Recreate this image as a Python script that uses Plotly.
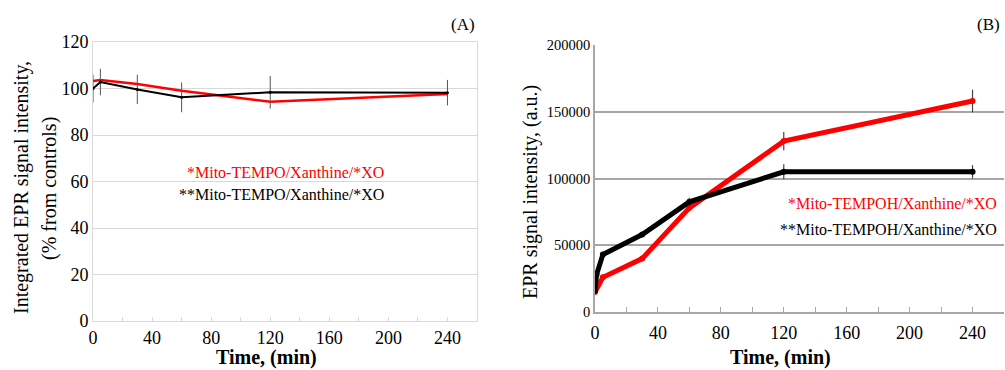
import plotly.graph_objects as go

# ---------------- Panel A data ----------------
a_time = [0, 5, 30, 60, 120, 240]
a_red = [103.2, 103.7, 101.9, 99.0, 94.3, 97.6]
a_black = [100.0, 102.8, 99.6, 96.2, 98.4, 98.2]
a_err = [6.0, 5.7, 6.3, 6.4, 7.0, 5.5]

# ---------------- Panel B data ----------------
b_time_red = [0, 5, 30, 60, 120, 240]
b_red = [15000, 26000, 40000, 78000, 128000, 158000]
b_red_err = [1500, 1500, 1800, 2500, 6900, 8500]
b_time_black = [0, 1, 5, 30, 60, 120, 240]
b_black = [16000, 28000, 43000, 58000, 82500, 105000, 105000]
b_black_err = [1500, 1500, 1500, 2000, 3000, 5600, 5000]

a_ticks_x = [0, 40, 80, 120, 160, 200, 240]
a_ticks_y = [0, 20, 40, 60, 80, 100, 120]
b_ticks_y = [0, 50000, 100000, 150000, 200000]

legend_a = ["*Mito-TEMPO/Xanthine/*XO", "**Mito-TEMPO/Xanthine/*XO"]
legend_b = ["*Mito-TEMPOH/Xanthine/*XO", "**Mito-TEMPOH/Xanthine/*XO"]

FONT = "Liberation Serif, Times New Roman, serif"
W, H = 1005, 370

fig = go.Figure()

# Panel A traces
fig.add_trace(go.Scatter(x=a_time, y=a_red, mode="lines", line=dict(color="#ff0000", width=2.5),
                         xaxis="x", yaxis="y", showlegend=False))
fig.add_trace(go.Scatter(x=a_time, y=a_black, mode="lines+markers", line=dict(color="#000000", width=2),
                         marker=dict(size=3, color="#000000"),
                         error_y=dict(type="data", array=a_err, visible=True, color="#555555",
                                      thickness=1, width=0),
                         xaxis="x", yaxis="y", showlegend=False))

# Panel B traces
fig.add_trace(go.Scatter(x=b_time_red, y=b_red, mode="lines+markers", line=dict(color="#ff0000", width=5),
                         marker=dict(size=6, color="#ff0000"),
                         error_y=dict(type="data", array=b_red_err, visible=True, color="#444444",
                                      thickness=1.2, width=0),
                         xaxis="x2", yaxis="y2", showlegend=False))
fig.add_trace(go.Scatter(x=b_time_black, y=b_black, mode="lines+markers", line=dict(color="#000000", width=5),
                         marker=dict(size=6, color="#000000"),
                         error_y=dict(type="data", array=b_black_err, visible=True, color="#444444",
                                      thickness=1.2, width=0),
                         xaxis="x2", yaxis="y2", showlegend=False))

def px_x(p):
    return p / W

def px_y(p):
    return (H - p) / H

light = "#d9d9d9"
mid = "#a6a6a6"

fig.update_layout(
    width=W, height=H,
    margin=dict(l=0, r=0, t=0, b=0, autoexpand=False),
    paper_bgcolor="white", plot_bgcolor="white",
    font=dict(family=FONT, color="#000000"),
    xaxis=dict(domain=[px_x(93), px_x(477)], range=[0, 260], anchor="y", automargin=False,
               tickvals=a_ticks_x, ticks="inside", ticklen=4, tickcolor=light,
               minor=dict(dtick=20, tick0=0, ticks="inside", ticklen=4, tickcolor=light),
               showgrid=False, zeroline=False, showline=True, linecolor=light, linewidth=1, mirror=True,
               tickfont=dict(size=18, family=FONT)),
    yaxis=dict(domain=[px_y(321), px_y(42)], range=[0, 120], anchor="x", automargin=False,
               tickvals=a_ticks_y, ticks="", showgrid=True, gridcolor=light, gridwidth=1,
               zeroline=False, showline=True, linecolor=light, linewidth=1, mirror=True,
               tickfont=dict(size=18, family=FONT)),
    xaxis2=dict(domain=[px_x(595), px_x(1004)], range=[0, 260], anchor="y2", automargin=False,
                tickvals=a_ticks_x, ticks="inside", ticklen=5, tickcolor=mid,
                minor=dict(dtick=20, tick0=0, ticks="inside", ticklen=5, tickcolor=mid),
                showgrid=False, zeroline=False, showline=True, linecolor=mid, linewidth=1.5,
                ticklabelstandoff=4,
                tickfont=dict(size=18, family=FONT)),
    yaxis2=dict(domain=[px_y(312), px_y(45)], range=[0, 200000], anchor="x2", automargin=False,
                tickvals=b_ticks_y, ticktext=[str(v) for v in b_ticks_y], ticks="",
                showgrid=True, gridcolor=mid, gridwidth=1.5,
                zeroline=False, showline=True, linecolor=mid, linewidth=1.5,
                tickfont=dict(size=14.5, family=FONT)),
)

ann = []
# Panel labels
ann.append(dict(text="(A)", x=px_x(463), y=px_y(25), xref="paper", yref="paper",
                showarrow=False, font=dict(size=17, family=FONT), xanchor="center", yanchor="middle"))
ann.append(dict(text="(B)", x=px_x(988), y=px_y(25), xref="paper", yref="paper",
                showarrow=False, font=dict(size=17, family=FONT), xanchor="center", yanchor="middle"))
# Y titles
ann.append(dict(text="Integrated EPR signal intensity,", x=px_x(22), y=px_y(188), xref="paper", yref="paper",
                showarrow=False, textangle=-90, font=dict(size=20, family=FONT),
                xanchor="center", yanchor="middle"))
ann.append(dict(text="(% from controls)", x=px_x(49), y=px_y(189), xref="paper", yref="paper",
                showarrow=False, textangle=-90, font=dict(size=20, family=FONT),
                xanchor="center", yanchor="middle"))
ann.append(dict(text="EPR signal intensity, (a.u.)", x=px_x(530), y=px_y(192), xref="paper", yref="paper",
                showarrow=False, textangle=-90, font=dict(size=20, family=FONT),
                xanchor="center", yanchor="middle"))
# X titles
ann.append(dict(text="<b>Time, (min)</b>", x=px_x(266), y=px_y(357), xref="paper", yref="paper",
                showarrow=False, font=dict(size=20, family=FONT), xanchor="center", yanchor="middle"))
ann.append(dict(text="<b>Time, (min)</b>", x=px_x(780), y=px_y(357), xref="paper", yref="paper",
                showarrow=False, font=dict(size=20, family=FONT), xanchor="center", yanchor="middle"))
# Legends
ann.append(dict(text=legend_a[0], x=px_x(386), y=px_y(172), xref="paper", yref="paper",
                showarrow=False, font=dict(size=16, family=FONT, color="#ff0000"),
                xanchor="right", yanchor="middle"))
ann.append(dict(text=legend_a[1], x=px_x(386), y=px_y(194), xref="paper", yref="paper",
                showarrow=False, font=dict(size=16, family=FONT, color="#000000"),
                xanchor="right", yanchor="middle"))
ann.append(dict(text=legend_b[0], x=px_x(999), y=px_y(204), xref="paper", yref="paper",
                showarrow=False, font=dict(size=16, family=FONT, color="#ff0000"),
                xanchor="right", yanchor="middle"))
ann.append(dict(text=legend_b[1], x=px_x(999), y=px_y(229), xref="paper", yref="paper",
                showarrow=False, font=dict(size=16, family=FONT, color="#000000"),
                xanchor="right", yanchor="middle"))
fig.update_layout(annotations=ann)

fig.write_html("out.html", config={"displayModeBar": False},
               post_script="document.body.style.margin='0';document.body.style.overflow='hidden';")
